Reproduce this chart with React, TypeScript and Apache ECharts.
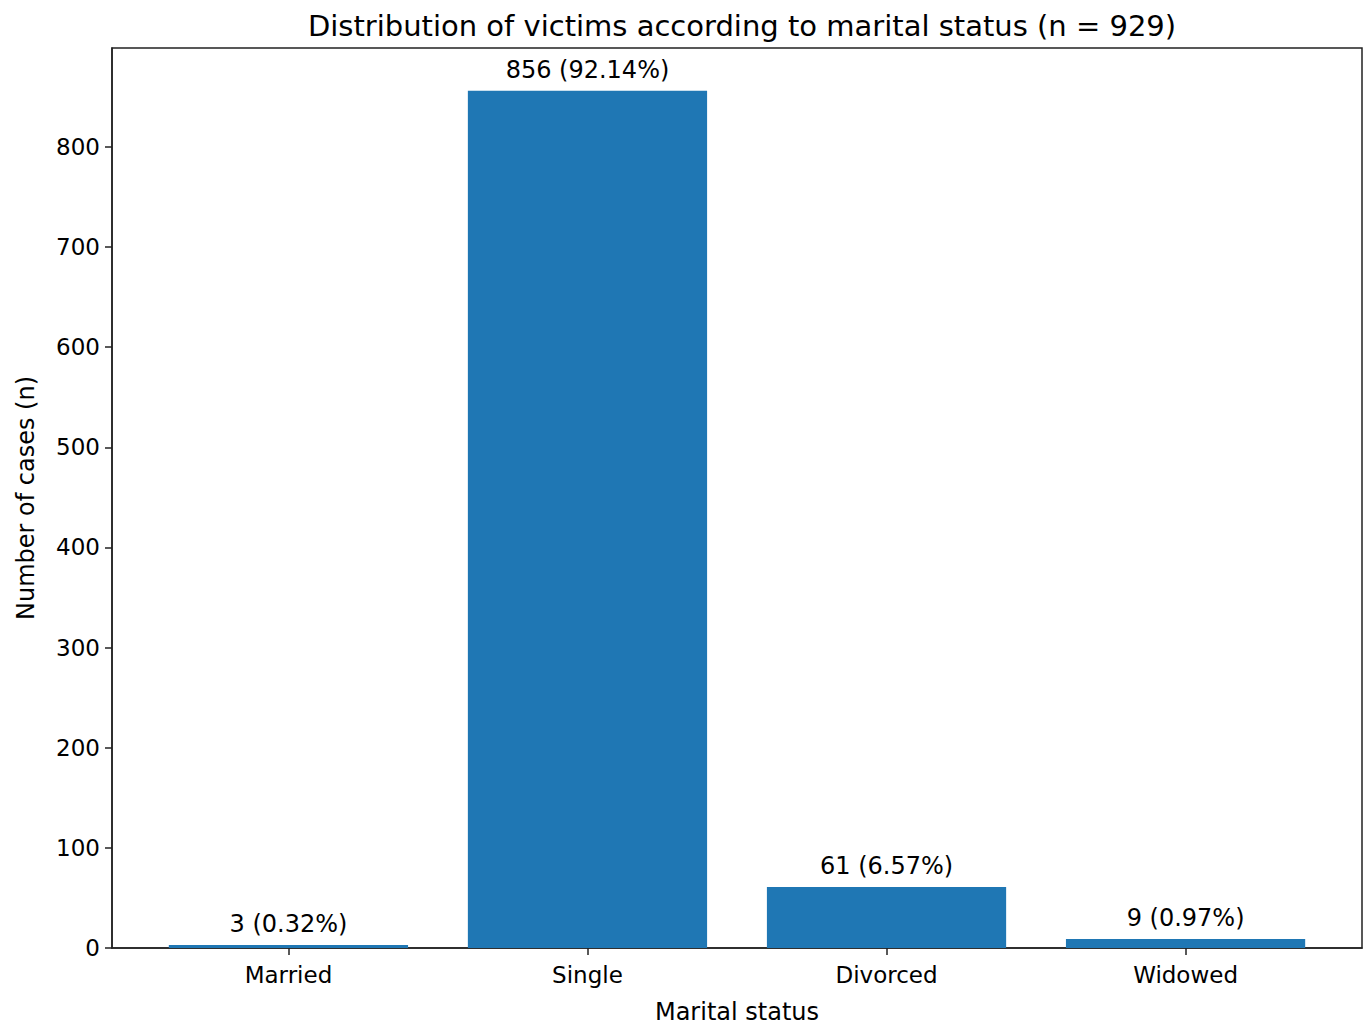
import { useEffect, useRef } from 'react';
import * as echarts from 'echarts';

const categories = ['Married', 'Single', 'Divorced', 'Widowed'];
const counts = [3, 856, 61, 9];
const percents = ['0.32%', '92.14%', '6.57%', '0.97%'];
const yTicks = [0, 100, 200, 300, 400, 500, 600, 700, 800];

const FONT = '"DejaVu Sans", sans-serif';
const BAR = '#1f77b4';

export default function App() {
  const ref = useRef<HTMLDivElement>(null);

  useEffect(() => {
    document.body.style.margin = '0';
    if (!ref.current) return;
    const chart = echarts.init(ref.current, undefined, { renderer: 'svg' });

    // matplotlib-like x range: bars of width 0.8 plus 5% margins
    const xMin = -0.59;
    const xMax = categories.length - 1 + 0.59;
    const gridLeft = 112;
    const gridRight = 7;
    const plotW = 1369 - gridLeft - gridRight;
    const barW = (0.8 / (xMax - xMin)) * plotW;

    chart.setOption({
      animation: false,
      backgroundColor: '#ffffff',
      textStyle: { fontFamily: FONT, color: '#000' },
      title: {
        text: 'Distribution of victims according to marital status (n = 929)',
        left: gridLeft + plotW / 2,
        textAlign: 'center',
        top: 6,
        textStyle: { fontFamily: FONT, fontSize: 29, fontWeight: 'normal', color: '#000' },
      },
      grid: {
        left: gridLeft,
        right: gridRight,
        top: 48,
        bottom: 80,
        show: true,
        borderColor: '#222',
        borderWidth: 1.5,
        backgroundColor: 'transparent',
      },
      xAxis: {
        type: 'value',
        min: xMin,
        max: xMax,
        name: 'Marital status',
        nameLocation: 'middle',
        nameGap: 52,
        nameTextStyle: { fontFamily: FONT, fontSize: 24, color: '#000' },
        splitLine: { show: false },
        axisLine: { show: true, onZero: false, lineStyle: { color: '#222', width: 1.5 } },
        axisTick: {
          show: true,
          length: 7,
          customValues: categories.map((_, i) => i),
          lineStyle: { color: '#222', width: 1.5 },
        },
        axisLabel: {
          customValues: categories.map((_, i) => i),
          formatter: (v: number) => categories[Math.round(v)] ?? '',
          fontFamily: FONT,
          fontSize: 23,
          color: '#000',
          margin: 15,
        },
      },
      yAxis: {
        type: 'value',
        min: 0,
        max: 898.8,
        interval: 100,
        name: 'Number of cases (n)',
        nameLocation: 'middle',
        nameGap: 74,
        nameRotate: 90,
        nameTextStyle: { fontFamily: FONT, fontSize: 24, color: '#000' },
        splitLine: { show: false },
        axisLine: { show: true, onZero: false, lineStyle: { color: '#222', width: 1.5 } },
        axisTick: {
          show: true,
          length: 7,
          customValues: yTicks,
          lineStyle: { color: '#222', width: 1.5 },
        },
        axisLabel: {
          customValues: yTicks,
          fontFamily: FONT,
          fontSize: 23,
          color: '#000',
          margin: 12,
        },
      },
      series: [
        {
          type: 'bar',
          barWidth: barW,
          data: counts.map((c, i) => [i, c]),
          itemStyle: { color: BAR },
          label: {
            show: true,
            position: 'top',
            distance: 9,
            fontFamily: FONT,
            fontSize: 24,
            color: '#000',
            formatter: (p: any) => `${counts[p.dataIndex]} (${percents[p.dataIndex]})`,
          },
        },
      ],
    });

    return () => chart.dispose();
  }, []);

  return <div ref={ref} style={{ width: 1369, height: 1029 }} />;
}
